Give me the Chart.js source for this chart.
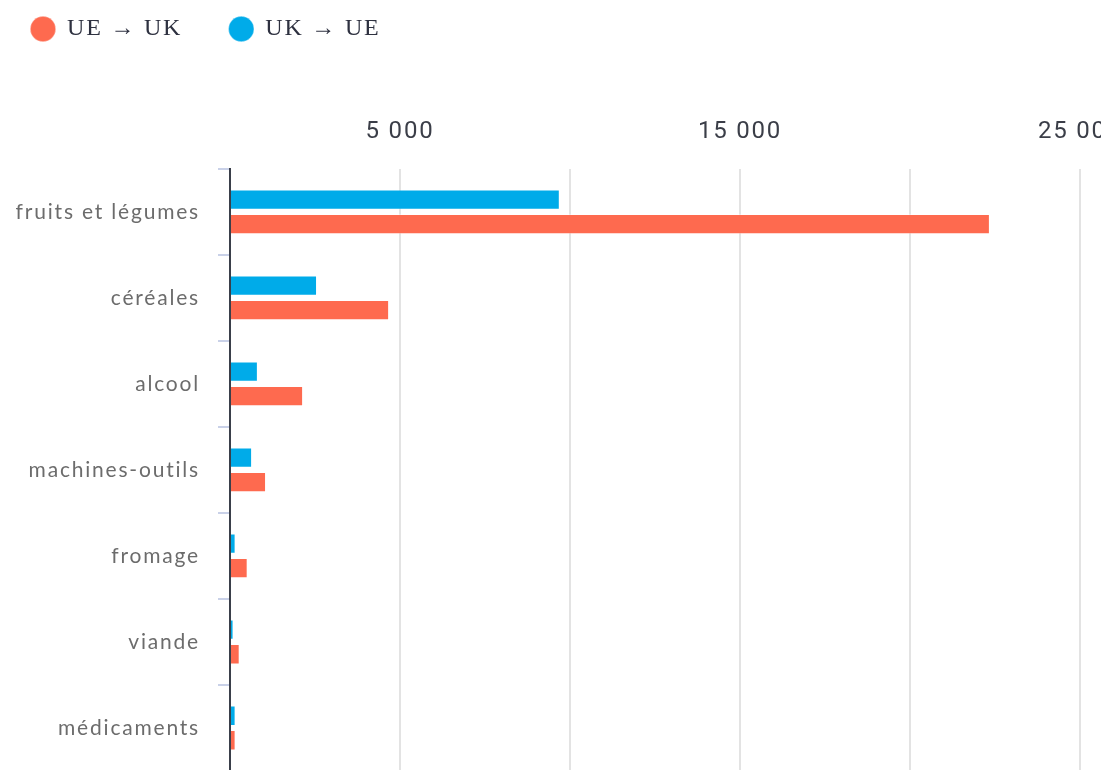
<!DOCTYPE html>
<html>
<head>
<meta charset="utf-8">
<script src="https://cdn.jsdelivr.net/npm/chart.js@4"></script>
<style>
  body { margin: 0; background: #fff; overflow: hidden; }
</style>
</head>
<body>
<canvas id="myChart" width="1101" height="771"></canvas>
<script>
var categories = ["fruits et légumes", "céréales", "alcool", "machines-outils", "fromage", "viande", "médicaments"];
var ueToUk = [22350, 4680, 2150, 1060, 520, 285, 165];
var ukToUe = [9700, 2560, 820, 650, 165, 105, 165];

var red = '#fe6a4f';
var blue = '#00abe9';

// push the axis down below the legend
var legendMargin = {
    id: 'legendMargin',
    beforeInit: function(chart) {
        var fit = chart.legend.fit;
        chart.legend.fit = function() {
            fit.bind(chart.legend)();
            this.height += 45;
        };
    }
};

// the labels are letter-spaced
var spacing = {
    id: 'spacing',
    beforeLayout: function(chart) { chart.ctx.letterSpacing = '1.8px'; },
    beforeDraw: function(chart) { chart.ctx.letterSpacing = '1.8px'; }
};

var ctx = document.getElementById('myChart').getContext('2d');
var chart = new Chart(ctx, {
    type: 'bar',
    data: {
        labels: categories,
        datasets: [{
            label: 'UK → UE',
            backgroundColor: blue,
            borderColor: 'rgba(255,255,255,0.35)',
            borderWidth: 1,
            data: ukToUe
        }, {
            label: 'UE → UK',
            backgroundColor: red,
            borderColor: 'rgba(255,255,255,0.35)',
            borderWidth: 1,
            data: ueToUk
        }]
    },
    plugins: [spacing, legendMargin],
    options: {
        indexAxis: 'y',
        responsive: false,
        animation: false,
        categoryPercentage: 0.57,
        barPercentage: 0.83,
        layout: { padding: { left: -16, top: -30, right: 21, bottom: 0 } },
        plugins: {
            tooltip: { enabled: false },
            legend: {
                reverse: true,
                align: 'start',
                labels: {
                    usePointStyle: true,
                    pointStyle: 'circle',
                    boxWidth: 26,
                    boxHeight: 18,
                    padding: 47,
                    color: '#2e3140',
                    font: { family: '"Liberation Serif", serif', size: 24 }
                }
            }
        },
        scales: {
            x: {
                position: 'top',
                min: 0,
                max: 25000,
                afterFit: function(s) { s.paddingLeft = 0; s.paddingRight = 0; },
                ticks: {
                    stepSize: 5000,
                    autoSkip: false,
                    maxRotation: 0,
                    padding: 22,
                    color: '#3b3e48',
                    font: { family: 'Roboto', size: 24 },
                    callback: function(v) {
                        if (v % 10000 !== 5000) return '';
                        return String(v).replace(/\B(?=(\d{3})+(?!\d))/g, ' ');
                    }
                },
                grid: { color: '#e3e3e3', lineWidth: 2, drawTicks: false },
                border: { display: false }
            },
            y: {
                afterFit: function(s) { s.width = 246; s.paddingTop = 0; s.paddingBottom = 0; },
                ticks: {
                    padding: 18,
                    color: '#6c6c6c',
                    font: { family: 'Lato', size: 21 }
                },
                grid: { drawOnChartArea: false, tickLength: 12, color: '#c9d1e8', lineWidth: 2 },
                border: { display: true, color: '#3a3f4a', width: 2 }
            }
        }
    }
});
</script>
</body>
</html>
